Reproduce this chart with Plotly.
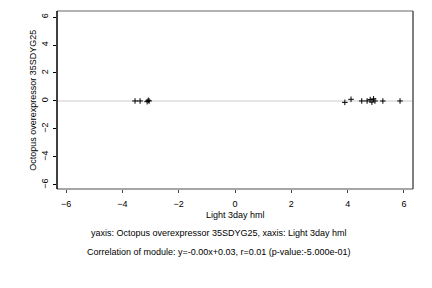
import plotly.graph_objects as go

x_vals = [-3.55, -3.37, -3.12, -3.08, -3.05, 3.90, 4.12, 4.50, 4.69, 4.80, 4.86, 4.92, 4.97, 5.25, 5.86]
y_vals = [0.0, 0.0, -0.05, 0.05, 0.0, -0.1, 0.12, 0.0, 0.0, 0.1, -0.08, 0.15, 0.0, 0.0, 0.0]
tick_vals = [-6, -4, -2, 0, 2, 4, 6]
x_title = "Light 3day hml"
y_title = "Octopus overexpressor 35SDYG25"
line1 = "yaxis: Octopus overexpressor 35SDYG25, xaxis: Light 3day hml"
line2 = "Correlation of module: y=-0.00x+0.03, r=0.01 (p-value:-5.000e-01)"

FONT = "Liberation Sans, Arial, sans-serif"

fig = go.Figure()
fig.add_trace(go.Scatter(
    x=x_vals, y=y_vals, mode="markers",
    marker=dict(symbol="cross-thin", size=4, line=dict(color="black", width=1), color="black"),
    showlegend=False,
))

fig.update_layout(
    width=432, height=288,
    margin=dict(l=57, r=19, t=11, b=99),
    paper_bgcolor="white", plot_bgcolor="white",
    font=dict(family=FONT, size=9, color="black"),
    xaxis=dict(range=[-6.32, 6.32], tickvals=tick_vals, ticks="outside", ticklen=3,
               tickcolor="#444", showgrid=False, zeroline=False, showline=False,
               tickfont=dict(size=9), ticklabelstandoff=3),
    yaxis=dict(range=[-6.29, 6.43], tickvals=tick_vals, ticks="outside", ticklen=3,
               tickcolor="black", showgrid=False, zeroline=False, showline=False,
               tickangle=-90, tickfont=dict(size=9), ticklabelstandoff=1),
    shapes=[
        dict(type="line", xref="paper", yref="y", x0=0, x1=1, y0=0, y1=0,
             line=dict(color="#dddddd", width=1.5), layer="below"),
        dict(type="line", xref="paper", yref="paper", x0=0, x1=1, y0=1, y1=1,
             line=dict(color="#999999", width=1.5)),
        dict(type="line", xref="paper", yref="paper", x0=0, x1=1, y0=0, y1=0,
             line=dict(color="#888888", width=1.5)),
        dict(type="line", xref="paper", yref="paper", x0=1, x1=1, y0=0, y1=1,
             line=dict(color="#555555", width=1.5)),
        dict(type="line", xref="paper", yref="paper", x0=0, x1=0, y0=0, y1=1,
             line=dict(color="black", width=1.5)),
    ],
    annotations=[
        dict(text=x_title, xref="paper", yref="paper", x=0.5, y=-0.146,
             showarrow=False, xanchor="center", yanchor="middle", font=dict(size=9)),
        dict(text=line1, xref="paper", yref="paper", x=0.455, y=-0.247,
             showarrow=False, xanchor="center", yanchor="middle", font=dict(size=9)),
        dict(text=line2, xref="paper", yref="paper", x=0.455, y=-0.354,
             showarrow=False, xanchor="center", yanchor="middle", font=dict(size=9)),
        dict(text=y_title, xref="paper", yref="paper", x=-0.068, y=0.5, textangle=-90,
             showarrow=False, xanchor="center", yanchor="middle", font=dict(size=9)),
    ],
)

fig.write_html("out.html")
